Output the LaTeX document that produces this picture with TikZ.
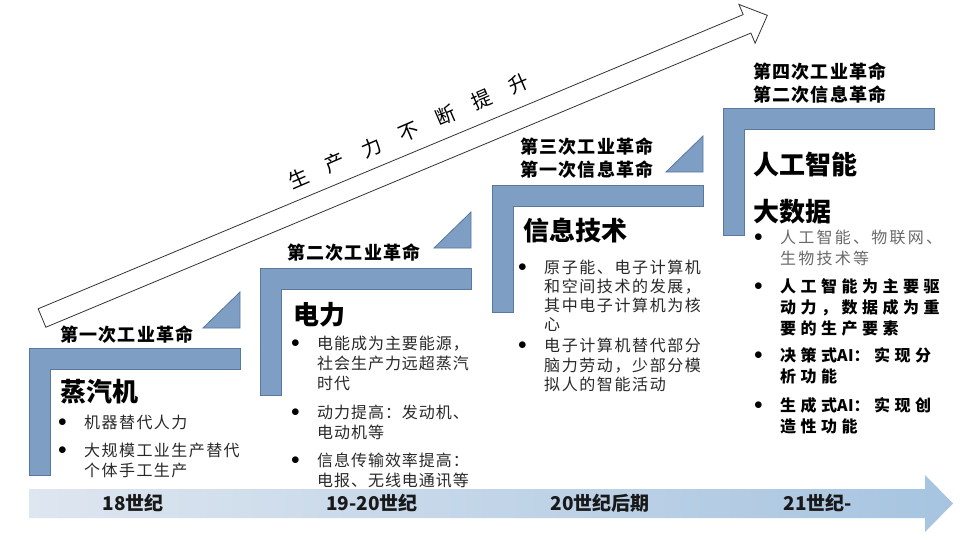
\documentclass[tikz,border=0pt]{standalone}
\usepackage{fontspec}
\setmainfont{Noto Sans CJK SC}
\usepackage{tikz}
\definecolor{stepblue}{RGB}{126,158,196}
\definecolor{stepedge}{RGB}{88,120,160}
\definecolor{bodygray}{RGB}{40,40,40}
\definecolor{softgray}{RGB}{105,105,105}
\definecolor{eraleft}{RGB}{222,230,240}
\definecolor{eraright}{RGB}{166,196,224}
\newcommand{\itm}{\makebox[26pt][l]{\color{black}\raisebox{2pt}{$\bullet$}}}
\newcommand{\keytxt}[1]{{\bfseries\color{black}\addfontfeature{LetterSpace=28}#1}}
\newcommand{\ai}{{\addfontfeature{LetterSpace=2}AI}}

\begin{document}
\begin{tikzpicture}[x=1pt,y=-1pt,
  stepbar/.style={fill=stepblue,draw=stepedge,line width=0.8pt},
  revlabel/.style={font=\bfseries\fontsize{18}{23}\selectfont\addfontfeature{LetterSpace=6},align=center,inner sep=0pt},
  headline/.style={font=\bfseries\fontsize{26}{30}\selectfont,anchor=west,inner sep=0pt},
  bodytext/.style={anchor=north west,inner sep=0pt,text=bodygray},
  eralabel/.style={font=\bfseries\fontsize{19}{22}\selectfont,text=black!90,inner sep=0pt}]
  \useasboundingbox (0,0) rectangle (960,539);
  % rising arrow
  \begin{scope}[shift={(42,318)},rotate=22.65]
    \draw[draw=black!80,line width=0.8pt,fill=white] (0,-10) -- (764,-10) -- (764,-21) -- (786,0) -- (764,21) -- (764,10) -- (0,10) -- cycle;
  \end{scope}
  \node[rotate=23.4,anchor=west,inner sep=0pt,font=\fontsize{20}{20}\selectfont\addfontfeature{LetterSpace=100}] (trend) at (289,183) {生产力不断提升};
  % time axis
  \shade[left color=eraleft,right color=eraright] (29,489) -- (925,489) -- (925,475) -- (953,503.5) -- (925,532) -- (925,518) -- (29,518) -- cycle;
  \foreach \x/\t [count=\i] in {133/18世纪,372/19-20世纪,600/20世纪后期,818/21世纪-}
    \node[eralabel] (era\i) at (\x,503) {\t};
  % steps
  \foreach \x/\y in {29/348,260/268,492/185,723/108}
    \draw[stepbar] (\x,\y) -- ++(211,0) -- ++(0,21) -- ++(-190,0) -- ++(0,106) -- ++(-21,0) -- cycle;
  \foreach \x/\y in {240/328,471/248,703/172}
    \draw[stepbar] (\x,\y) -- ++(0,-36) -- ++(-37,36) -- cycle;
  % revolutions
  \node[revlabel] (rev1) at (127,335) {第一次工业革命};
  \node[revlabel] (rev2) at (354,253) {第二次工业革命};
  \node[revlabel] (rev3) at (587,158.5) {第三次工业革命\\第一次信息革命};
  \node[revlabel] (rev4) at (820,83.5) {第四次工业革命\\第二次信息革命};
  % headings
  \node[headline] (head1) at (60,392) {蒸汽机};
  \node[headline] (head2) at (293,315) {电力};
  \node[headline] (head3) at (523,231) {信息技术};
  \node[headline] (head4) at (753,164) {人工智能};
  \node[headline] (head5) at (753,212) {大数据};
  % bullet texts
  \node[bodytext,font=\fontsize{16}{20}\selectfont\addfontfeature{LetterSpace=9}] (body1) at (58,414) {%
    \begin{tabular}{@{}l@{}l@{}}
    \itm & 机器替代人力\\[8pt]
    \itm & 大规模工业生产替代\\
         & 个体手工生产
    \end{tabular}};
  \node[bodytext,font=\fontsize{16}{20}\selectfont\addfontfeature{LetterSpace=6}] (body2) at (291,335) {%
    \begin{tabular}{@{}l@{}l@{}}
    \itm & 电能成为主要能源，\\
         & 社会生产力远超蒸汽\\
         & 时代\\[9pt]
    \itm & 动力提高：发动机、\\
         & 电动机等\\[8pt]
    \itm & 信息传输效率提高：\\
         & 电报、无线电通讯等
    \end{tabular}};
  \node[bodytext,font=\fontsize{16}{18.5}\selectfont\addfontfeature{LetterSpace=10}] (body3) at (518,260) {%
    \begin{tabular}{@{}l@{}l@{}}
    \itm & 原子能、电子计算机\\
         & 和空间技术的发展，\\
         & 其中电子计算机为核\\
         & 心\\[2.5pt]
    \itm & 电子计算机替代部分\\
         & 脑力劳动，少部分模\\
         & 拟人的智能活动
    \end{tabular}};
  \node[bodytext,text=softgray,font=\fontsize{16}{21}\selectfont\addfontfeature{LetterSpace=14}] (body4) at (754,229) {%
    \begin{tabular}{@{}l@{}l@{}}
    \itm & 人工智能、物联网、\\
         & 生物技术等\\[7pt]
    \itm & \keytxt{人工智能为主要驱}\\
         & \keytxt{动力，数据成为重}\\
         & \keytxt{要的生产要素}\\[6pt]
    \itm & \keytxt{决策式\ai：实现分}\\
         & \keytxt{析功能}\\[8pt]
    \itm & \keytxt{生成式\ai：实现创}\\
         & \keytxt{造性功能}
    \end{tabular}};
\end{tikzpicture}
\end{document}
